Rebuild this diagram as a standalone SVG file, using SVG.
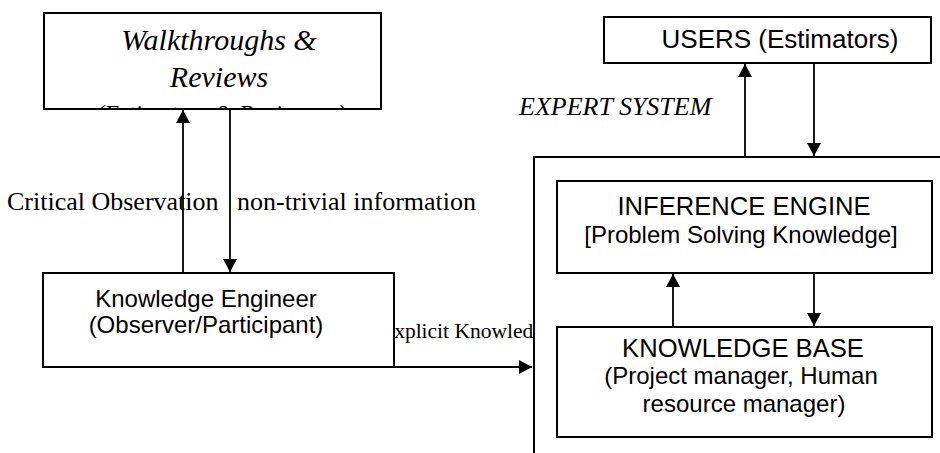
<svg xmlns="http://www.w3.org/2000/svg" width="940" height="453" viewBox="0 0 940 453">
  <style>
    .box { fill: #fff; stroke: #000; stroke-width: 2; }
    .sans { font-family: "Liberation Sans", Arial, sans-serif; font-size: 24px; fill: #000; text-anchor: middle; }
    .caps { font-size: 25.6px; }
    .serif { font-family: "Liberation Serif", "Times New Roman", serif; font-size: 26px; fill: #000; }
    .ital { font-style: italic; }
    .title { font-size: 30px; text-anchor: middle; }
    .sub { font-size: 24px; text-anchor: middle; }
    .small { font-size: 21.5px; }
    .link { fill: none; stroke: #000; stroke-width: 1.8; }
  </style>
  <defs>
    <marker id="arrow" markerUnits="userSpaceOnUse" markerWidth="14" markerHeight="14" viewBox="0 0 13 14" refX="13" refY="7" orient="auto">
      <path d="M0,0 L13,7 L0,14 Z" fill="#000"/>
    </marker>
    <clipPath id="walkClip">
      <rect x="45" y="14" width="335" height="94"/>
    </clipPath>
    <clipPath id="explicitClip">
      <rect x="395" y="300" width="138" height="60"/>
    </clipPath>
  </defs>

  <!-- left side: observation sources and knowledge engineer -->
  <g id="walkthroughs">
    <rect class="box" x="44" y="13" width="337" height="96"/>
    <g clip-path="url(#walkClip)">
      <text class="serif ital title" x="219" y="50">Walkthroughs &amp;</text>
      <text class="serif ital title" x="219" y="87">Reviews</text>
      <text class="serif ital sub" x="221" y="121">(Estimators &amp; Reviewers)</text>
    </g>
  </g>

  <g id="knowledge-engineer">
    <rect class="box" x="43" y="273" width="351" height="94"/>
    <text class="sans" x="206" y="307">Knowledge Engineer</text>
    <text class="sans" x="206" y="333">(Observer/Participant)</text>
  </g>

  <!-- right side: expert system -->
  <g id="users">
    <rect class="box" x="604" y="17" width="327" height="46"/>
    <text class="sans" x="780" y="48" style="font-size:26px">USERS (Estimators)</text>
  </g>

  <g id="expert-system">
    <rect class="box" x="534" y="157" width="420" height="310"/>
    <text class="serif ital" x="519" y="115">EXPERT SYSTEM</text>
  </g>

  <g id="inference-engine">
    <rect class="box" x="557" y="181" width="375" height="92"/>
    <text class="sans caps" x="744" y="215">INFERENCE ENGINE</text>
    <text class="sans" x="741" y="243">[Problem Solving Knowledge]</text>
  </g>

  <g id="knowledge-base">
    <rect class="box" x="557" y="327" width="375" height="110"/>
    <text class="sans caps" x="743" y="357">KNOWLEDGE BASE</text>
    <text class="sans" x="741" y="384">(Project manager, Human</text>
    <text class="sans" x="744" y="412">resource manager)</text>
  </g>

  <!-- connectors -->
  <g id="connectors">
    <line class="link" x1="183" y1="273" x2="183" y2="110" marker-end="url(#arrow)"/>
    <line class="link" x1="230" y1="109" x2="230" y2="272" marker-end="url(#arrow)"/>
    <line class="link" x1="367" y1="367" x2="532" y2="367" marker-end="url(#arrow)"/>
    <line class="link" x1="745" y1="157" x2="745" y2="64" marker-end="url(#arrow)"/>
    <line class="link" x1="814" y1="63" x2="814" y2="156" marker-end="url(#arrow)"/>
    <line class="link" x1="673" y1="327" x2="673" y2="274" marker-end="url(#arrow)"/>
    <line class="link" x1="814" y1="273" x2="814" y2="326" marker-end="url(#arrow)"/>
    <text class="serif" x="7" y="210">Critical Observation</text>
    <text class="serif" x="237" y="210">non-trivial information</text>
    <g clip-path="url(#explicitClip)">
      <text class="serif small" x="381" y="338">Explicit Knowled</text>
    </g>
  </g>
</svg>
